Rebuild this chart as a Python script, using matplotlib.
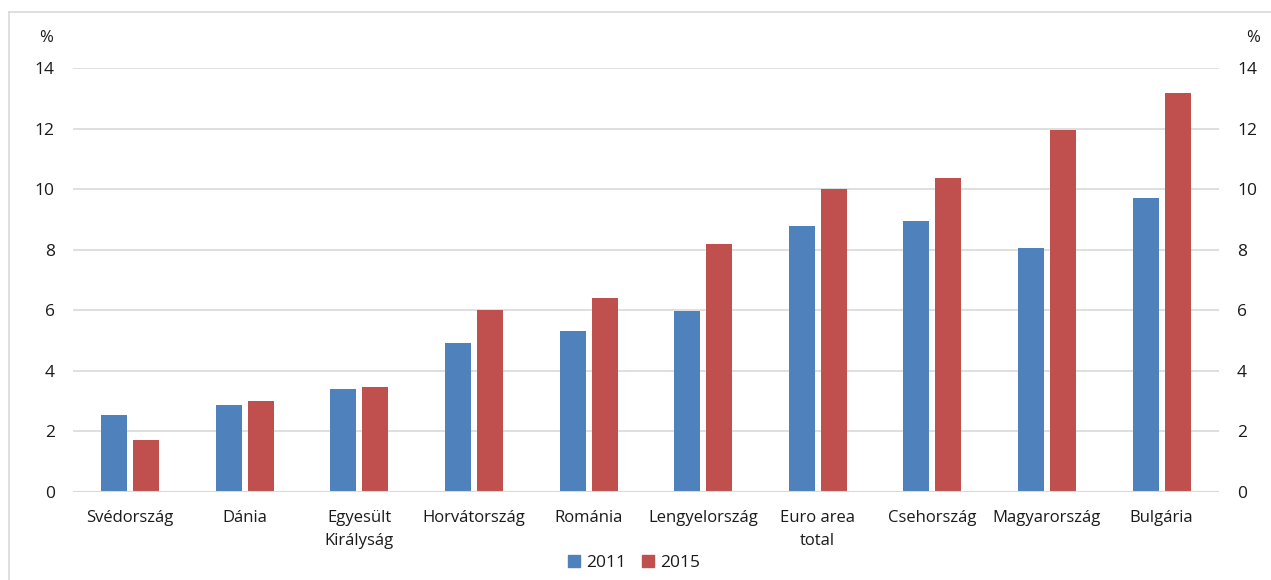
import matplotlib.pyplot as plt
import matplotlib.patches as mpatches
import matplotlib.lines as mlines
import numpy as np

countries = ['Svédország', 'Dánia', 'Egyesült\nKirályság', 'Horvátország', 'Románia',
             'Lengyelország', 'Euro area\ntotal', 'Csehország', 'Magyarország', 'Bulgária']
values_2011 = [2.54, 2.86, 3.40, 4.93, 5.31, 5.99, 8.79, 8.94, 8.06, 9.72]
values_2015 = [1.72, 3.00, 3.47, 6.00, 6.41, 8.20, 10.02, 10.37, 11.96, 13.18]
series_labels = ['2011', '2015']
yticks = [0, 2, 4, 6, 8, 10, 12, 14]

blue = '#4F81BD'
red = '#C0504D'
grid_col = '#D9D9D9'
txt_col = '#1a1a1a'

plt.rcParams['font.family'] = ['Open Sans', 'DejaVu Sans']
plt.rcParams['font.size'] = 12

fig = plt.figure(figsize=(12.71, 5.8), dpi=100)
ax = fig.add_axes([0.0574, 0.1517, 0.9016, 0.7311])

x = np.arange(len(countries))
w = 0.227
off = 0.14
ax.bar(x - off, values_2011, w, color=blue, label=series_labels[0], zorder=3)
ax.bar(x + off, values_2015, w, color=red, label=series_labels[1], zorder=3)

ax.set_xlim(-0.5, len(countries) - 0.5)
ax.set_ylim(0, 14)
ax.set_yticks(yticks)
ax.set_xticks(x)
ax.set_xticklabels(countries, color=txt_col, linespacing=1.55)
ax.tick_params(axis='x', length=0, pad=13)
ax.tick_params(axis='y', length=0, pad=13, labelcolor=txt_col, labelsize=12.5)
ax.yaxis.grid(True, color=grid_col, linewidth=1.2, zorder=0)
for s in ax.spines.values():
    s.set_visible(False)
ax.axhline(0, color=grid_col, linewidth=1.5, zorder=4)

ax2 = ax.twinx()
ax2.set_ylim(0, 14)
ax2.set_yticks(yticks)
ax2.tick_params(axis='y', length=0, pad=13, labelcolor=txt_col, labelsize=12.5)
for s in ax2.spines.values():
    s.set_visible(False)

fig.text(46 / 1271, 1 - 38 / 580, '%', ha='center', va='center', fontsize=12, color=txt_col)
fig.text(1253 / 1271, 1 - 38 / 580, '%', ha='center', va='center', fontsize=12, color=txt_col)

handles = [mpatches.Patch(color=blue), mpatches.Patch(color=red)]
fig.legend(handles, series_labels, loc='center', bbox_to_anchor=(634 / 1271, 1 - 563 / 580),
           ncol=2, frameon=False, handlelength=0.7, handleheight=0.7, handletextpad=0.35,
           columnspacing=0.9, fontsize=12.5, labelcolor=txt_col)

# outer frame (only top and left edges are inside the image)
fig.add_artist(mlines.Line2D([9 / 1271, 9 / 1271], [0, 1 - 12 / 580],
                             transform=fig.transFigure, color=grid_col, linewidth=1.2))
fig.add_artist(mlines.Line2D([9 / 1271, 1], [1 - 12 / 580, 1 - 12 / 580],
                             transform=fig.transFigure, color=grid_col, linewidth=1.2))

fig.savefig('out.png', dpi=100)
